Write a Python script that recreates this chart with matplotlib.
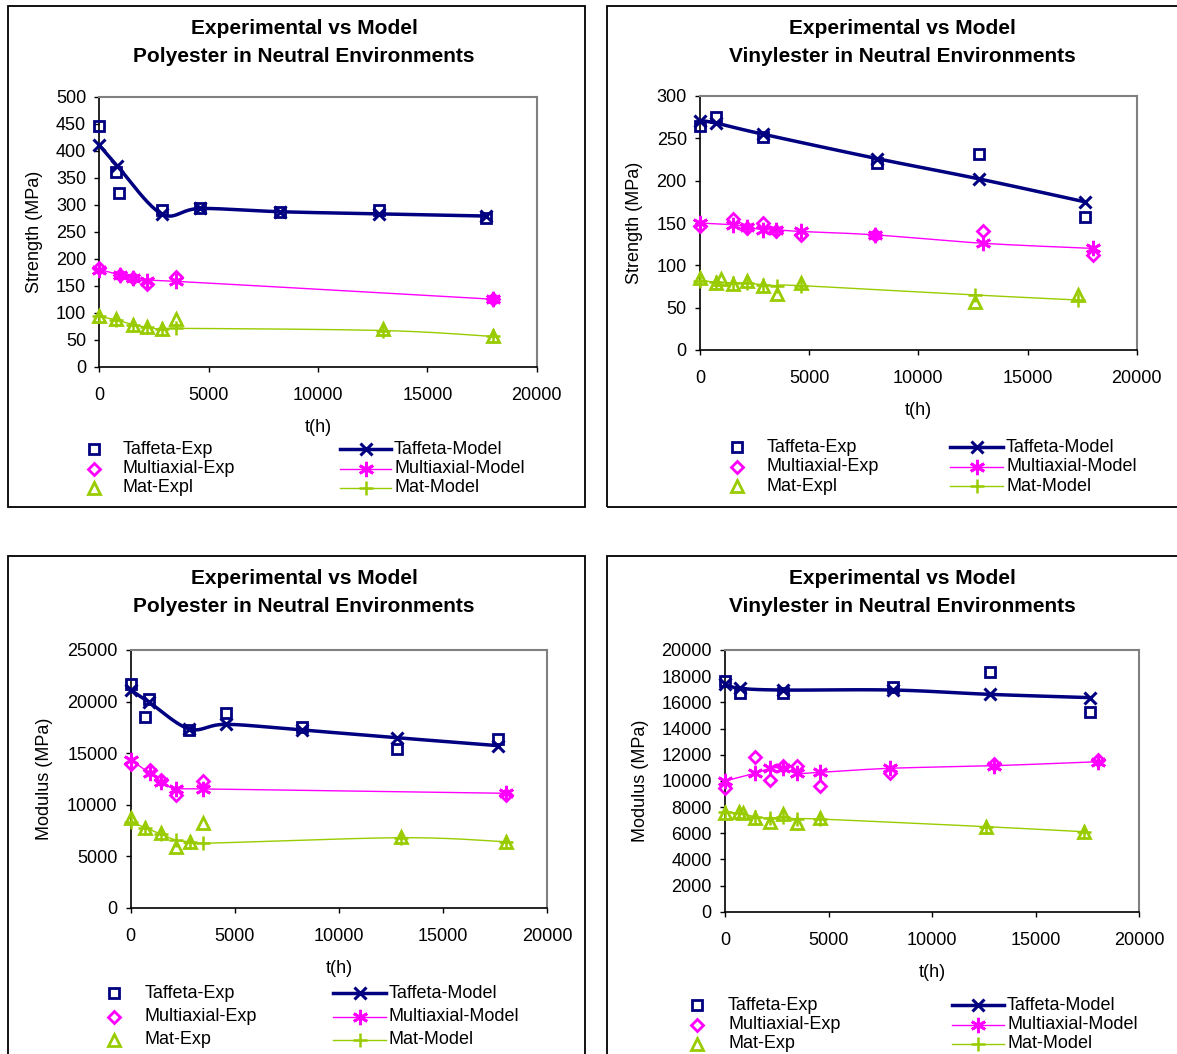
import numpy as np
import matplotlib
matplotlib.use("Agg")
import matplotlib.pyplot as plt
from matplotlib.lines import Line2D
from matplotlib.patches import Rectangle

W, H = 1177, 1054
NAVY = "#000080"
MAGENTA = "#FF00FF"
GREEN = "#99CC00"

plt.rcParams["font.family"] = ["Liberation Sans", "DejaVu Sans"]

# ---- Polyester, strength (MPa) ----
ps_taf_exp_t = [0, 760, 915, 2850, 4600, 8260, 12800, 17680]
ps_taf_exp_v = [446, 361, 322, 290, 293, 287, 290, 276]
ps_taf_mod_t = [0, 820, 2850, 4600, 8260, 12800, 17680]
ps_taf_mod_v = [410, 372, 283, 293, 287, 283, 279]
ps_mul_exp_t = [0, 945, 1520, 2195, 3500, 17990]
ps_mul_exp_v = [182, 170, 164, 153, 167, 125]
ps_mul_mod_t = [0, 945, 1520, 2195, 3500, 17990]
ps_mul_mod_v = [180, 170, 164, 158, 158, 125]
ps_mat_exp_t = [0, 760, 1520, 2195, 2850, 3500, 12985, 17990]
ps_mat_exp_v = [94, 88, 78, 74, 69, 88, 69, 57]
ps_mat_mod_t = [0, 760, 1520, 2195, 2850, 3500, 12985, 17990]
ps_mat_mod_v = [93, 87, 78, 73, 69, 71, 67, 56]

# ---- Vinylester, strength (MPa) ----
vs_taf_exp_t = [0, 730, 2870, 8120, 12790, 17630]
vs_taf_exp_v = [264, 275, 252, 221, 231, 157]
vs_taf_mod_t = [0, 730, 2870, 8120, 12790, 17630]
vs_taf_mod_v = [271, 268, 255, 226, 202, 175]
vs_mul_exp_t = [0, 1500, 2170, 2870, 3480, 4610, 8000, 12980, 17990]
vs_mul_exp_v = [146, 155, 144, 150, 140, 136, 136, 140, 112]
vs_mul_mod_t = [0, 1500, 2170, 2870, 3480, 4610, 8000, 12980, 17990]
vs_mul_mod_v = [150, 148, 145, 142, 142, 140, 136, 126, 120]
vs_mat_exp_t = [0, 730, 950, 1500, 2170, 2870, 3540, 4610, 12590, 17330]
vs_mat_exp_v = [85, 79, 84, 78, 82, 76, 66, 79, 57, 65]
vs_mat_mod_t = [0, 730, 1500, 2170, 2870, 3540, 4610, 12590, 17330]
vs_mat_mod_v = [82, 80, 79, 79, 77, 76, 76, 65, 59]

# ---- Polyester, modulus (MPa) ----
pm_taf_exp_t = [0, 690, 890, 2810, 4570, 8210, 12770, 17640]
pm_taf_exp_v = [21670, 18530, 20250, 17240, 18860, 17560, 15400, 16370]
pm_taf_mod_t = [0, 890, 2810, 4570, 8210, 12770, 17640]
pm_taf_mod_v = [21120, 19930, 17340, 17790, 17240, 16490, 15720]
pm_mul_exp_t = [0, 920, 1470, 2160, 3480, 18000]
pm_mul_exp_v = [13910, 13360, 12390, 10930, 12290, 10930]
pm_mul_mod_t = [0, 920, 1470, 2160, 3480, 18000]
pm_mul_mod_v = [14330, 13040, 12220, 11520, 11520, 11100]
pm_mat_exp_t = [0, 690, 1470, 2160, 2830, 3480, 12980, 18000]
pm_mat_exp_v = [8670, 7760, 7220, 5920, 6400, 8190, 6890, 6400]
pm_mat_mod_t = [0, 690, 1470, 2160, 2830, 3480, 12980, 18000]
pm_mat_mod_v = [8340, 7760, 7120, 6570, 6400, 6250, 6790, 6400]

# ---- Vinylester, modulus (MPa) ----
vm_taf_exp_t = [0, 725, 2820, 8130, 12800, 17630]
vm_taf_exp_v = [17630, 16690, 16690, 17200, 18300, 15290]
vm_taf_mod_t = [0, 725, 2820, 8130, 12800, 17630]
vm_taf_mod_v = [17380, 17070, 16940, 16940, 16610, 16360]
vm_mul_exp_t = [0, 1450, 2170, 2820, 3460, 4590, 7970, 13010, 18000]
vm_mul_exp_v = [9430, 11850, 10060, 11160, 11160, 9630, 10580, 11270, 11590]
vm_mul_mod_t = [0, 1450, 2170, 2820, 3460, 4590, 7970, 13010, 18000]
vm_mul_mod_v = [9990, 10580, 10960, 10960, 10580, 10650, 10960, 11160, 11460]
vm_mat_exp_t = [0, 680, 890, 1450, 2170, 2820, 3460, 4590, 12590, 17360]
vm_mat_exp_v = [7520, 7600, 7520, 7180, 6880, 7440, 6760, 7180, 6500, 6110]
vm_mat_mod_t = [0, 680, 1450, 2170, 2820, 3460, 4590, 12590, 17360]
vm_mat_mod_v = [7640, 7520, 7260, 7140, 7260, 7080, 7080, 6500, 6110]

TITLE_1 = "Experimental vs Model"
TITLE_PS = "Polyester in Neutral Environments"
TITLE_VS = "Vinylester in Neutral Environments"
EXP_LABELS_TOP = ["Taffeta-Exp", "Multiaxial-Exp", "Mat-Expl"]
EXP_LABELS_BOT = ["Taffeta-Exp", "Multiaxial-Exp", "Mat-Exp"]
MODEL_LABELS = ["Taffeta-Model", "Multiaxial-Model", "Mat-Model"]

ASTERISK = (6, 2, 0)
EXP_STYLES = [
    dict(marker="s", color=NAVY, ms=7.5, mew=2, mfc="none"),
    dict(marker="D", color=MAGENTA, ms=6.5, mew=2, mfc="none"),
    dict(marker="^", color=GREEN, ms=8, mew=2, mfc="none"),
]
MODEL_STYLES = [
    dict(marker="x", color=NAVY, ms=9, mew=2.2, lw=2.5),
    dict(marker=ASTERISK, color=MAGENTA, ms=11, mew=2, lw=1),
    dict(marker="+", color=GREEN, ms=10, mew=1.8, lw=1),
]
FS = 13


def px(x, y):
    return x / W, 1 - y / H


def smooth(x, y, n=24):
    # bezier smoothing through the points, like a spreadsheet "smoothed line"
    pts = np.column_stack([np.asarray(x, float), np.asarray(y, float)])
    out = [pts[0]]
    tt = np.linspace(0, 1, n)[1:, None]
    for i in range(len(pts) - 1):
        p0 = pts[i - 1] if i > 0 else pts[i]
        p1, p2 = pts[i], pts[i + 1]
        p3 = pts[i + 2] if i + 2 < len(pts) else pts[i + 1]
        c1 = p1 + (p2 - p0) / 6
        c2 = p2 - (p3 - p1) / 6
        seg = (1 - tt) ** 3 * p1 + 3 * (1 - tt) ** 2 * tt * c1 + 3 * (1 - tt) * tt ** 2 * c2 + tt ** 3 * p2
        out.extend(seg)
    out = np.array(out)
    return out[:, 0], out[:, 1]


def draw_panel(fig, rect, exp_series, model_series, ytop, ystep, ylabel, ylab_x, xlab_y):
    ax = fig.add_axes(rect)
    for (t, v), st in zip(exp_series, EXP_STYLES):
        ax.plot(t, v, linestyle="none", marker=st["marker"], color=st["color"],
                ms=st["ms"], mew=st["mew"], mfc=st["mfc"], zorder=3, clip_on=False)
    for (t, v), st in zip(model_series, MODEL_STYLES):
        sx, sy = smooth(t, v)
        ax.plot(sx, sy, color=st["color"], lw=st["lw"], zorder=2)
        ax.plot(t, v, linestyle="none", marker=st["marker"], color=st["color"],
                ms=st["ms"], mew=st["mew"], zorder=4, clip_on=False)
    ax.set_xlim(0, 20000)
    ax.set_ylim(0, ytop)
    ax.set_xticks(np.arange(0, 20001, 5000))
    ax.set_yticks(np.arange(0, ytop + 1, ystep))
    ax.tick_params(axis="both", direction="out", length=3.5, width=1, labelsize=FS, color="black")
    ax.tick_params(axis="y", pad=6)
    ax.tick_params(axis="x", pad=11)
    for s in ["top", "right"]:
        ax.spines[s].set_color("#808080")
        ax.spines[s].set_linewidth(1.5)
    for s in ["left", "bottom"]:
        ax.spines[s].set_color("black")
        ax.spines[s].set_linewidth(1.2)
    ax.set_ylabel(ylabel, fontsize=FS, va="center")
    ax.yaxis.set_label_coords(ylab_x, 0.5)
    ax.set_xlabel("t(h)", fontsize=FS, va="center")
    ax.xaxis.set_label_coords(0.5, xlab_y)
    return ax


def draw_box(fig, x0, y0, x1, y1):
    fx0, fy1 = px(x0, y0)
    fx1, fy0 = px(x1, y1)
    fig.add_artist(Rectangle((fx0, fy0), fx1 - fx0, fy1 - fy0, transform=fig.transFigure,
                             fill=False, edgecolor="black", lw=1.3))


def draw_titles(fig, xc, y1, y2, line2):
    fig.text(*px(xc, y1), TITLE_1, ha="center", va="center", fontsize=15, fontweight="bold")
    fig.text(*px(xc, y2), line2, ha="center", va="center", fontsize=15, fontweight="bold")


def draw_legend(fig, xm, xt1, xl0, xl1, xt2, rows, exp_labels):
    for i, y in enumerate(rows):
        est = EXP_STYLES[i]
        fx, fy = px(xm, y)
        fig.add_artist(Line2D([fx], [fy], transform=fig.transFigure, linestyle="none",
                              marker=est["marker"], color=est["color"], ms=est["ms"],
                              mew=est["mew"], mfc="none"))
        fig.text(*px(xt1, y), exp_labels[i], ha="left", va="center", fontsize=FS)
        mst = MODEL_STYLES[i]
        a0, _ = px(xl0, y)
        a1, _ = px(xl1, y)
        fig.add_artist(Line2D([a0, a1], [fy, fy], transform=fig.transFigure,
                              color=mst["color"], lw=mst["lw"]))
        fig.add_artist(Line2D([(a0 + a1) / 2], [fy], transform=fig.transFigure, linestyle="none",
                              marker=mst["marker"], color=mst["color"], ms=mst["ms"], mew=mst["mew"]))
        fig.text(*px(xt2, y), MODEL_LABELS[i], ha="left", va="center", fontsize=FS)


def axes_rect(x0, x1, ytop, ybot):
    return [x0 / W, 1 - ybot / H, (x1 - x0) / W, (ybot - ytop) / H]


def main():
    fig = plt.figure(figsize=(W / 100, H / 100), dpi=100)
    fig.patch.set_facecolor("white")

    # chart area frames
    draw_box(fig, 8, 6, 585, 507)
    draw_box(fig, 607, 6, 1190, 507)
    draw_box(fig, 8, 556, 585, 1070)
    draw_box(fig, 607, 556, 1190, 1070)

    # top-left
    draw_panel(fig, axes_rect(99.3, 536.7, 96.7, 366.7),
               [(ps_taf_exp_t, ps_taf_exp_v), (ps_mul_exp_t, ps_mul_exp_v), (ps_mat_exp_t, ps_mat_exp_v)],
               [(ps_taf_mod_t, ps_taf_mod_v), (ps_mul_mod_t, ps_mul_mod_v), (ps_mat_mod_t, ps_mat_mod_v)],
               500, 50, "Strength (MPa)", -0.149, -0.227)
    draw_titles(fig, 304, 28, 56, TITLE_PS)
    draw_legend(fig, 94, 123, 340, 391, 394, [449, 468.5, 488], EXP_LABELS_TOP)

    # top-right
    draw_panel(fig, axes_rect(700, 1136.7, 96, 350),
               [(vs_taf_exp_t, vs_taf_exp_v), (vs_mul_exp_t, vs_mul_exp_v), (vs_mat_exp_t, vs_mat_exp_v)],
               [(vs_taf_mod_t, vs_taf_mod_v), (vs_mul_mod_t, vs_mul_mod_v), (vs_mat_mod_t, vs_mat_mod_v)],
               300, 50, "Strength (MPa)", -0.151, -0.24)
    draw_titles(fig, 902, 28, 56, TITLE_VS)
    draw_legend(fig, 737, 767, 950, 1003, 1006, [447, 466.5, 486], EXP_LABELS_TOP)

    # bottom-left
    draw_panel(fig, axes_rect(130.7, 547.3, 650, 907.7),
               [(pm_taf_exp_t, pm_taf_exp_v), (pm_mul_exp_t, pm_mul_exp_v), (pm_mat_exp_t, pm_mat_exp_v)],
               [(pm_taf_mod_t, pm_taf_mod_v), (pm_mul_mod_t, pm_mul_mod_v), (pm_mat_mod_t, pm_mat_mod_v)],
               25000, 5000, "Modulus (MPa)", -0.208, -0.234)
    draw_titles(fig, 304, 578, 606, TITLE_PS)
    draw_legend(fig, 114, 145, 333, 386, 389, [993, 1016.5, 1040], EXP_LABELS_BOT)

    # bottom-right
    draw_panel(fig, axes_rect(725, 1139, 650, 911.7),
               [(vm_taf_exp_t, vm_taf_exp_v), (vm_mul_exp_t, vm_mul_exp_v), (vm_mat_exp_t, vm_mat_exp_v)],
               [(vm_taf_mod_t, vm_taf_mod_v), (vm_mul_mod_t, vm_mul_mod_v), (vm_mat_mod_t, vm_mat_mod_v)],
               20000, 2000, "Modulus (MPa)", -0.205, -0.234)
    draw_titles(fig, 902, 578, 606, TITLE_VS)
    draw_legend(fig, 697, 728, 952, 1004, 1007, [1005, 1024.5, 1044], EXP_LABELS_BOT)

    fig.savefig("out.png", dpi=100)
    plt.close(fig)


if __name__ == "__main__":
    main()
